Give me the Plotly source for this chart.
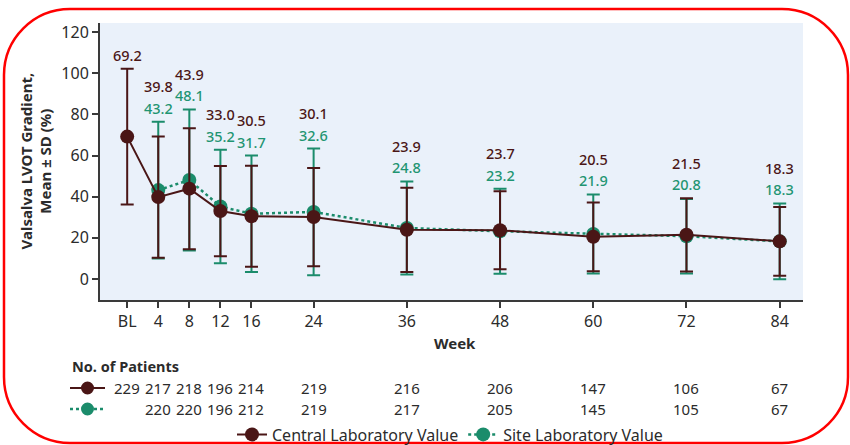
import plotly.graph_objects as go

# ---------------- data ----------------
weeks = [0, 4, 8, 12, 16, 24, 36, 48, 60, 72, 84]
week_labels = ["BL", "4", "8", "12", "16", "24", "36", "48", "60", "72", "84"]

central_mean = [69.2, 39.8, 43.9, 33.0, 30.5, 30.1, 23.9, 23.7, 20.5, 21.5, 18.3]
central_sd = [33.0, 29.5, 29.4, 21.9, 24.5, 23.9, 20.5, 18.9, 16.7, 17.8, 16.7]

site_weeks = [4, 8, 12, 16, 24, 36, 48, 60, 72, 84]
site_mean = [43.2, 48.1, 35.2, 31.7, 32.6, 24.8, 23.2, 21.9, 20.8, 18.3]
site_sd = [33.2, 34.3, 27.6, 28.3, 30.8, 22.6, 20.6, 19.2, 18.1, 18.4]

central_n = [229, 217, 218, 196, 214, 219, 216, 206, 147, 106, 67]
site_n = [220, 220, 196, 212, 219, 217, 205, 145, 105, 67]

# ---------------- style ----------------
MAROON = "#4a1616"
GREEN = "#1b8c6b"
GREEN_TXT = "#1f9572"
TXT = "#2b2b2b"
FONT = "Noto Sans"

W, H = 850, 445
ML, MR, MT, MB = 100, 47, 23, 145
PW, PH = W - ML - MR, H - MT - MB


def px_x(px):
    return (px - ML) / PW


def px_y(py):
    return (H - MB - py) / PH


fig = go.Figure()

fig.add_trace(go.Scatter(
    x=site_weeks, y=site_mean, mode="lines+markers", name="Site Laboratory Value",
    line=dict(color=GREEN, width=2.5, dash="dot"),
    marker=dict(color=GREEN, size=14),
    error_y=dict(type="data", array=site_sd, visible=True, color=GREEN, thickness=2, width=6.5),
    cliponaxis=False,
))
fig.add_trace(go.Scatter(
    x=weeks, y=central_mean, mode="lines+markers", name="Central Laboratory Value",
    line=dict(color=MAROON, width=2),
    marker=dict(color=MAROON, size=14),
    error_y=dict(type="data", array=central_sd, visible=True, color=MAROON, thickness=2, width=6.5),
    cliponaxis=False,
))

annotations = []
site_map = {w: (m, s) for w, m, s in zip(site_weeks, site_mean, site_sd)}
for w, m, s in zip(weeks, central_mean, central_sd):
    top = m + s
    if w in site_map:
        sm, ss = site_map[w]
        top = max(top, sm + ss)
        annotations.append(dict(x=w, y=top, xref="x", yref="y", text=f"{sm:.1f}",
                                showarrow=False, yshift=14, yanchor="middle",
                                font=dict(family=FONT, size=14.5, color=GREEN_TXT, weight=500)))
        annotations.append(dict(x=w, y=top, xref="x", yref="y", text=f"{m:.1f}",
                                showarrow=False, yshift=35.5, yanchor="middle",
                                font=dict(family=FONT, size=14.5, color=MAROON, weight=500)))
    else:
        annotations.append(dict(x=w, y=top, xref="x", yref="y", text=f"{m:.1f}",
                                showarrow=False, yshift=14, yanchor="middle",
                                font=dict(family=FONT, size=14.5, color=MAROON, weight=500)))

# patient numbers
for w, n in zip(weeks, central_n):
    annotations.append(dict(x=w, y=px_y(388), xref="x", yref="paper", text=str(n),
                            showarrow=False, yanchor="middle",
                            font=dict(family=FONT, size=15, color=TXT)))
for w, n in zip(site_weeks, site_n):
    annotations.append(dict(x=w, y=px_y(409), xref="x", yref="paper", text=str(n),
                            showarrow=False, yanchor="middle",
                            font=dict(family=FONT, size=15, color=TXT)))

annotations.append(dict(x=px_x(70), y=px_y(366), xref="paper", yref="paper",
                        text="<b>No. of Patients</b>", showarrow=False,
                        xanchor="left", yanchor="middle",
                        font=dict(family=FONT, size=14.5, color=TXT)))
annotations.append(dict(x=px_x(455), y=px_y(343), xref="paper", yref="paper",
                        text="<b>Week</b>", showarrow=False,
                        xanchor="center", yanchor="middle",
                        font=dict(family=FONT, size=15, color=TXT)))
annotations.append(dict(x=px_x(35), y=px_y(161.5), xref="paper", yref="paper",
                        text="<b>Valsalva LVOT Gradient,<br>Mean ± SD (%)</b>",
                        showarrow=False, textangle=-90,
                        xanchor="center", yanchor="middle",
                        font=dict(family=FONT, size=15, color=TXT)))

shapes = []
# table row symbols
for py, col, dash in [(388, MAROON, "solid"), (409, GREEN, "dot")]:
    shapes.append(dict(type="line", xref="paper", yref="paper",
                       x0=px_x(70), x1=px_x(105), y0=px_y(py), y1=px_y(py),
                       line=dict(color=col, width=2 if dash == "solid" else 2.5, dash=dash)))
    shapes.append(dict(type="circle", xref="paper", yref="paper",
                       x0=px_x(87.5 - 6.5), x1=px_x(87.5 + 6.5),
                       y0=px_y(py + 6.5), y1=px_y(py - 6.5),
                       fillcolor=col, line=dict(color=col, width=0)))

# red rounded border
L, R, T, B, r = 4, 848, 9, 443, 66
k = 0.5523 * r


def P(px, py):
    return f"{px_x(px):.5f},{px_y(py):.5f}"


path = (f"M {P(L + r, T)} L {P(R - r, T)} C {P(R - r + k, T)} {P(R, T + r - k)} {P(R, T + r)} "
        f"L {P(R, B - r)} C {P(R, B - r + k)} {P(R - r + k, B)} {P(R - r, B)} "
        f"L {P(L + r, B)} C {P(L + r - k, B)} {P(L, B - r + k)} {P(L, B - r)} "
        f"L {P(L, T + r)} C {P(L, T + r - k)} {P(L + r - k, T)} {P(L + r, T)} Z")
shapes.append(dict(type="path", xref="paper", yref="paper", path=path,
                   line=dict(color="#ff0000", width=2.5), layer="above"))

fig.update_layout(
    width=W, height=H,
    margin=dict(l=ML, r=MR, t=MT, b=MB, autoexpand=False),
    paper_bgcolor="white",
    plot_bgcolor="#eaf1fa",
    font=dict(family=FONT, size=15, color=TXT),
    showlegend=True,
    legend=dict(orientation="h", x=px_x(450), y=px_y(434.5), xanchor="center", yanchor="middle",
                traceorder="reversed", font=dict(family=FONT, size=16, color=TXT),
                bgcolor="rgba(0,0,0,0)", itemwidth=30, tracegroupgap=0),
    xaxis=dict(range=[-3.5, 87], tickmode="array", tickvals=weeks, ticktext=week_labels,
               showgrid=False, zeroline=False, showline=True, linecolor="#3a3a3a", linewidth=2,
               ticks="outside", ticklen=6, tickcolor="#3a3a3a", tickwidth=1.5,
               tickfont=dict(family=FONT, size=16, color=TXT)),
    yaxis=dict(range=[-10.2, 124.4], tickmode="array", tickvals=[0, 20, 40, 60, 80, 100, 120],
               showgrid=False, zeroline=False, showline=True, linecolor="#3a3a3a", linewidth=2,
               ticks="outside", ticklen=6, tickcolor="#3a3a3a", tickwidth=1.5,
               tickfont=dict(family=FONT, size=16, color=TXT)),
    annotations=annotations,
    shapes=shapes,
)

fig.write_html("out.html", config={"displayModeBar": False},
               post_script="document.body.style.margin='0';document.body.style.overflow='hidden';")
